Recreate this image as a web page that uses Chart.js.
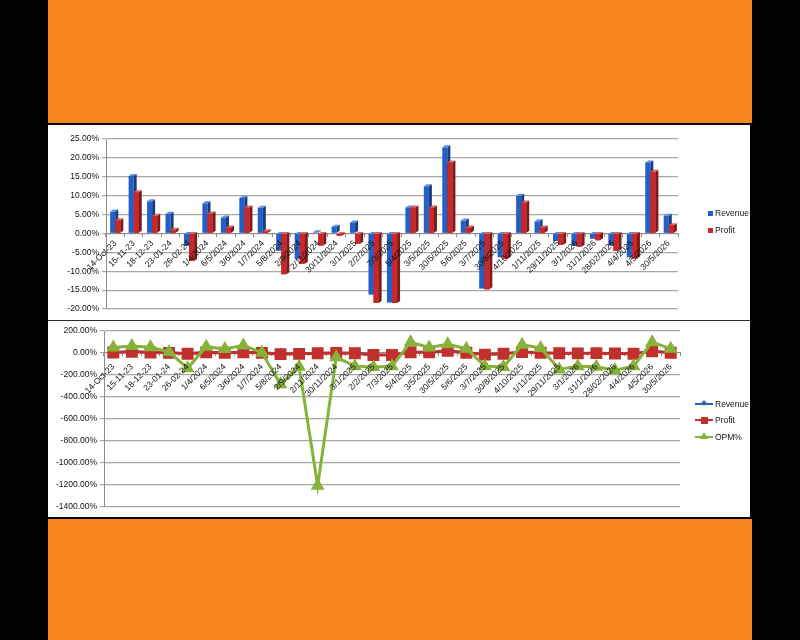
<!DOCTYPE html>
<html>
<head>
<meta charset="utf-8">
<script src="https://cdn.jsdelivr.net/npm/chart.js@4.4.1/dist/chart.umd.min.js"></script>
<style>
  html, body { margin: 0; padding: 0; background: #000; width: 800px; height: 640px; overflow: hidden; }
  body { position: relative; font-family: "Liberation Sans", Arial, sans-serif; }
  .band { position: absolute; left: 48px; width: 704px; background: #f7861f; }
  #band-top { top: 0; height: 123px; }
  #band-bot { top: 519px; height: 121px; }
  #panel { position: absolute; left: 48px; top: 125px; width: 702px; height: 392px; background: #fff; }
  .chart-box { position: absolute; left: 0; width: 702px; height: 195px; }
  #box-bars { top: 0; }
  #box-lines { top: 196px; }
  #divider { position: absolute; left: 0; top: 195px; width: 702px; height: 1px; background: #2a2a2a; }
  .lg { position: absolute; font-size: 8.5px; line-height: 10px; color: #111; white-space: nowrap; }
  .lg .sw { position: absolute; left: -7px; top: 2.5px; width: 5px; height: 5px; }
  .lg .ln { position: absolute; left: -20px; top: 4px; width: 18px; height: 2px; }
  .lg .mk { position: absolute; }
</style>
</head>
<body>
<div class="band" id="band-top"></div>
<div class="band" id="band-bot"></div>
<div id="panel">
  <div class="chart-box" id="box-bars"><canvas id="bars" width="702" height="195"></canvas></div>
  <div id="divider"></div>
  <div class="chart-box" id="box-lines"><canvas id="lines" width="702" height="195"></canvas></div>

  <div class="lg" style="left:667px; top:83px;"><span class="sw" style="background:#2260c8"></span>Revenue</div>
  <div class="lg" style="left:667px; top:100px;"><span class="sw" style="background:#c8282b"></span>Profit</div>

  <div class="lg" style="left:667px; top:274px;">
    <span class="ln" style="background:#2e5fb7"></span>
    <span class="mk" style="left:-13px; top:2px; width:4px; height:4px; background:#2e5fb7; transform:rotate(45deg);"></span>Revenue</div>
  <div class="lg" style="left:667px; top:290px;">
    <span class="ln" style="background:#c0302d"></span>
    <span class="mk" style="left:-14.5px; top:1.5px; width:7px; height:7px; background:#c0302d;"></span>Profit</div>
  <div class="lg" style="left:667px; top:307px;">
    <span class="ln" style="background:#86b23a"></span>
    <span class="mk" style="left:-15px; top:0px; width:0; height:0; border-left:4px solid transparent; border-right:4px solid transparent; border-bottom:7px solid #86b23a;"></span>OPM%</div>
</div>

<script>
// Revenue / profit growth (3D-ish bars) and the same series plus OPM% as lines.
const periods = [
  '14-Oct-23', '15-11-23', '18-12-23', '23-01-24', '26-02-24', '1/4/2024', '6/5/2024', '3/6/2024',
  '1/7/2024', '5/8/2024', '2/9/2024', '2/11/2024', '30/11/2024', '3/1/2025', '2/2/2025', '7/3/2025',
  '5/4/2025', '3/5/2025', '30/5/2025', '5/6/2025', '3/7/2025', '30/8/2025', '4/10/2025', '1/11/2025',
  '29/11/2025', '3/1/2026', '31/1/2026', '28/02/2026', '4/4/2026', '4/5/2026', '30/5/2026',
];

const revenue = [
  5.8, 15.2, 8.5, 5.2, -3.3, 8.0, 4.2, 9.4, 6.8, -4.6, -6.8, 0.3, 1.8, 2.9, -16.2, -18.3,
  6.9, 12.5, 22.8, 3.4, -14.6, -6.3, 10.0, 3.2, -2.0, -3.3, -1.4, -3.2, -6.3, 18.8, 4.7,
];

const profit = [
  3.5, 10.9, 4.7, 1.0, -7.3, 5.3, 1.6, 6.9, 0.6, -10.8, -8.0, -3.2, -0.6, -2.7, -18.4, -18.4,
  6.9, 6.9, 18.8, 1.6, -14.8, -6.7, 8.2, 1.6, -3.0, -3.5, -1.8, -4.6, -6.6, 16.3, 2.2,
];

const opm = [
  50, 63, 52, 9, -140, 57, 36, 69, 3, -285, -125, -1210, -38, -120, -128, -122,
  98, 50, 80, 39, -120, -128, 75, 45, -150, -120, -125, -158, -120, 98, 39,
];

const barTicks = { min: -20, max: 25, step: 5 };
const lineTicks = { min: -1400, max: 200, step: 200 };

const BLUE = '#2260c8';
const RED = '#c8282b';
const faceColors = [
  { side: '#163c82', top: '#5b8be0' },
  { side: '#7e1a1a', top: '#e0625f' },
];
const DX = 3, DY = 2;

const tickFont = { family: '"Liberation Sans", Arial, sans-serif', size: 8.5 };
const pct = (v) => Number(v).toFixed(2) + '%';

function drawFaces(ctx, bar, faces) {
  const { x, y, base, width } = bar.getProps(['x', 'y', 'base', 'width'], true);
  const l = x - width / 2, r = x + width / 2;
  const top = Math.min(y, base), bot = Math.max(y, base);
  ctx.fillStyle = faces.side;
  ctx.beginPath();
  ctx.moveTo(r, top); ctx.lineTo(r + DX, top - DY); ctx.lineTo(r + DX, bot - DY); ctx.lineTo(r, bot);
  ctx.closePath(); ctx.fill();
  ctx.fillStyle = faces.top;
  ctx.beginPath();
  ctx.moveTo(l, top); ctx.lineTo(l + DX, top - DY); ctx.lineTo(r + DX, top - DY); ctx.lineTo(r, top);
  ctx.closePath(); ctx.fill();
}

// fake Excel-style 3D: blue faces first, then the red bars go back on top of them
const bars3d = {
  id: 'bars3d',
  afterDatasetsDraw(chart) {
    const { ctx } = chart;
    ctx.save();
    chart.getDatasetMeta(0).data.forEach((bar) => drawFaces(ctx, bar, faceColors[0]));
    chart.getDatasetMeta(1).data.forEach((bar) => {
      bar.draw(ctx);
      drawFaces(ctx, bar, faceColors[1]);
    });
    ctx.restore();
  },
};

// category labels sit on the zero line, drawn over the marks (ticks.z > 0)
const xAxis = (pad) => ({
  position: { y: 0 },
  offset: true,
  grid: { drawOnChartArea: false, offset: true, tickLength: 3, color: '#8c8c8c' },
  border: { color: '#8c8c8c' },
  ticks: { z: 1, autoSkip: false, minRotation: 45, maxRotation: 45, padding: pad, color: '#111', font: tickFont },
});

const yAxis = (t, width) => ({
  min: t.min, max: t.max,
  grid: { color: '#a8a8a8', lineWidth: 1.2, tickLength: 4 },
  border: { color: '#8c8c8c' },
  ticks: { stepSize: t.step, padding: 3, color: '#111', font: tickFont, callback: pct },
  afterFit: (s) => { s.width = width; },
});

new Chart(document.getElementById('bars'), {
  type: 'bar',
  data: {
    labels: periods,
    datasets: [
      { label: 'Revenue', data: revenue, backgroundColor: BLUE },
      { label: 'Profit', data: profit, backgroundColor: RED },
    ],
  },
  options: {
    responsive: false, animation: false,
    layout: { padding: { left: 0, right: 72, top: 14, bottom: 11 } },
    datasets: { bar: { barPercentage: 1, categoryPercentage: 0.55 } },
    plugins: { legend: { display: false }, tooltip: { enabled: false } },
    scales: { x: xAxis(2), y: yAxis(barTicks, 58) },
  },
  plugins: [bars3d],
});

new Chart(document.getElementById('lines'), {
  type: 'line',
  data: {
    labels: periods,
    datasets: [
      { label: 'Revenue', data: revenue, borderColor: '#2e5fb7', backgroundColor: '#2e5fb7',
        borderWidth: 2, pointStyle: 'rectRot', pointRadius: 4, order: 3 },
      { label: 'Profit', data: profit, borderColor: '#c0302d', backgroundColor: '#c0302d',
        borderWidth: 3, pointStyle: 'rect', pointRadius: 6.3, order: 2 },
      { label: 'OPM%', data: opm, borderColor: '#86b23a', backgroundColor: '#86b23a',
        borderWidth: 3, pointStyle: 'triangle', pointRadius: 5, order: 1 },
    ],
  },
  options: {
    responsive: false, animation: false,
    layout: { padding: { left: 0, right: 70, top: 10, bottom: 6 } },
    plugins: { legend: { display: false }, tooltip: { enabled: false } },
    scales: { x: xAxis(6), y: yAxis(lineTicks, 56) },
  },
});
</script>
</body>
</html>
